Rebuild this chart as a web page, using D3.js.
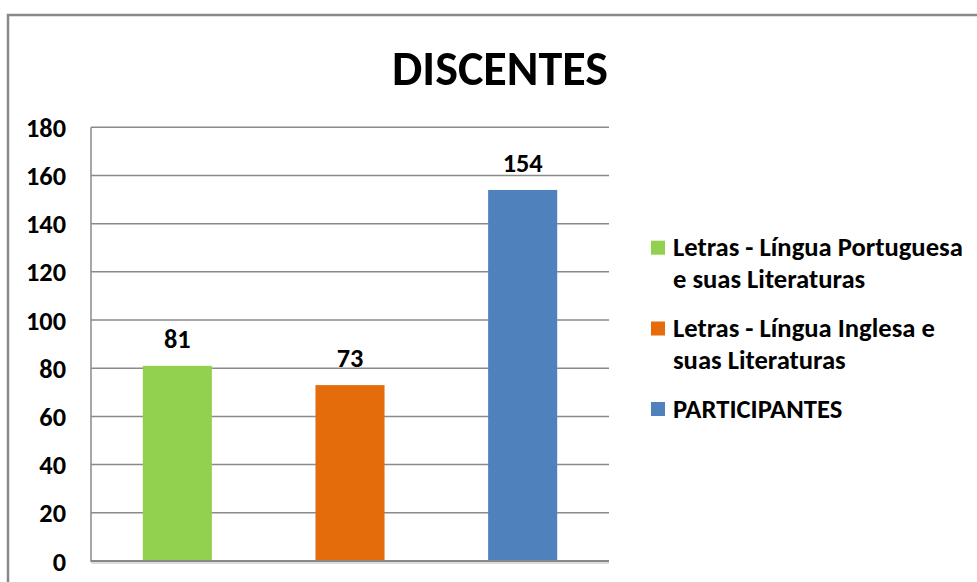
<!DOCTYPE html>
<html><head><meta charset="utf-8">
<script src="https://cdn.jsdelivr.net/npm/d3@7"></script>
<style>html,body{margin:0;padding:0;background:#fff;overflow:hidden}</style>
</head><body>
<script>
const title = "DISCENTES";
const categories = ["Letras - Língua Portuguesa e suas Literaturas", "Letras - Língua Inglesa e suas Literaturas", "PARTICIPANTES"];
const values = [81, 73, 154];
const legendLines = [["Letras - Língua Portuguesa", "e suas Literaturas"], ["Letras - Língua Inglesa e", "suas Literaturas"], ["PARTICIPANTES"]];
const colors = ["#92D050", "#E46C0A", "#4F81BD"];
const yTicks = [0, 20, 40, 60, 80, 100, 120, 140, 160, 180];

const W = 977, H = 582;
const FONT = "Carlito, Calibri, Lato, 'Open Sans', sans-serif";
const svg = d3.select("body").append("svg").attr("width", W).attr("height", H);

svg.append("rect").attr("x", 8).attr("y", 15).attr("width", 1100).attr("height", 700)
  .attr("fill", "#fff").attr("stroke", "#898989").attr("stroke-width", 2.5);

const plot = {left: 91, right: 609, top: 127.3, bottom: 561};
const x = d3.scaleBand().domain(categories).range([plot.left, plot.right]).paddingInner(0.6).paddingOuter(0.3);
const y = d3.scaleLinear().domain([0, 180]).range([plot.bottom, plot.top]);

function fitSize(text, target) {
  const t = svg.append("text").attr("font-family", FONT).attr("font-weight", "bold").attr("font-size", 100).text(text);
  const w = t.node().getComputedTextLength();
  t.remove();
  return 100 * target / w;
}

// gridlines
svg.append("g").selectAll("line").data(yTicks.filter(d => d > 0)).join("line")
  .attr("x1", plot.left).attr("x2", plot.right)
  .attr("y1", d => y(d)).attr("y2", d => y(d))
  .attr("stroke", "#8a8a8a").attr("stroke-width", 1.5);

// bars
svg.append("g").selectAll("rect").data(values).join("rect")
  .attr("x", (d, i) => x(categories[i])).attr("width", x.bandwidth())
  .attr("y", d => y(d)).attr("height", d => y(0) - y(d))
  .attr("fill", (d, i) => colors[i]);

// axes lines
svg.append("line").attr("x1", plot.left).attr("x2", plot.left).attr("y1", plot.top).attr("y2", plot.bottom + 1)
  .attr("stroke", "#8a8a8a").attr("stroke-width", 1.5);
svg.append("line").attr("x1", plot.left).attr("x2", plot.right).attr("y1", plot.bottom + 2).attr("y2", plot.bottom + 2)
  .attr("stroke", "#d0d0d0").attr("stroke-width", 1.5);
svg.append("line").attr("x1", plot.left).attr("x2", plot.right).attr("y1", plot.bottom).attr("y2", plot.bottom)
  .attr("stroke", "#888").attr("stroke-width", 2);

// y axis labels
const tickSize = fitSize("180", 40);
const yAxis = d3.axisLeft(y).tickValues(yTicks).tickSize(0).tickPadding(25);
const ga = svg.append("g").attr("transform", `translate(${plot.left},0)`).call(yAxis);
ga.select(".domain").remove();
ga.selectAll("text").attr("font-family", FONT).attr("font-weight", "bold").attr("font-size", tickSize)
  .attr("fill", "#000").attr("dy", null).attr("dominant-baseline", "central");

// value labels
svg.append("g").selectAll("text").data(values).join("text")
  .attr("x", (d, i) => x(categories[i]) + x.bandwidth() / 2)
  .attr("y", d => y(d) - 18)
  .attr("text-anchor", "middle").attr("font-family", FONT).attr("font-weight", "bold")
  .attr("font-size", tickSize).attr("fill", "#000").text(d => d);

// title
const titleSize = fitSize(title, 216);
svg.append("text").attr("x", 500).attr("y", 85).attr("text-anchor", "middle")
  .attr("font-family", FONT).attr("font-weight", "bold").attr("font-size", titleSize).attr("fill", "#000").text(title);

// legend
const legSize = fitSize(legendLines[0][0], 290);
const legTop = [240.7, 321.5, 402];
const leg = svg.append("g");
legendLines.forEach((lines, i) => {
  leg.append("rect").attr("x", 651).attr("y", legTop[i]).attr("width", 14).attr("height", 14).attr("fill", colors[i]);
  const t = leg.append("text").attr("font-family", FONT).attr("font-weight", "bold").attr("font-size", legSize).attr("fill", "#000");
  lines.forEach((ln, j) => {
    t.append("tspan").attr("x", 673).attr("y", legTop[i] + 15.5 + j * 32).text(ln);
  });
});
</script>
</body></html>
